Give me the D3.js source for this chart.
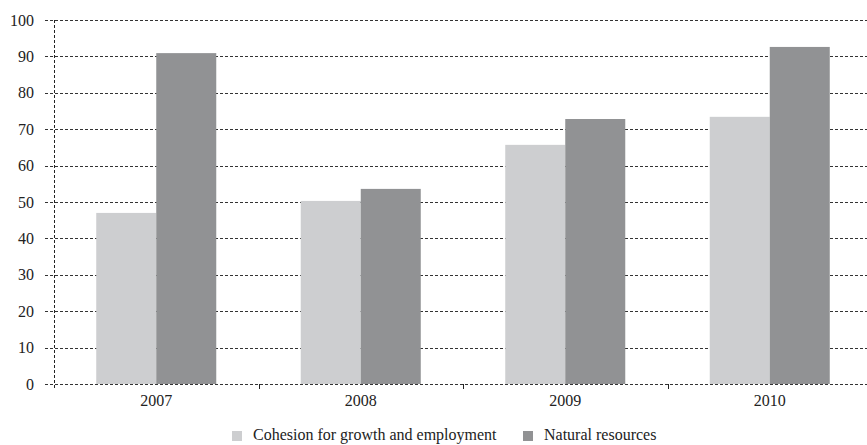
<!DOCTYPE html>
<html><head><meta charset="utf-8">
<script src="https://cdn.jsdelivr.net/npm/d3@7"></script>
<style>body{margin:0;background:#fff}</style>
</head><body><svg id="c" width="867" height="445" style="font-family:'Liberation Serif',serif"></svg>
<script>
const years = ["2007","2008","2009","2010"];
const seriesNames = ["Cohesion for growth and employment","Natural resources"];
const cohesion = [47.0, 50.3, 65.7, 73.4];
const natural = [90.9, 53.6, 72.8, 92.6];
const yTicks = [0,10,20,30,40,50,60,70,80,90,100];
const colors = ["#cdced0","#919294"];
const FONT = "'Liberation Serif', 'Times New Roman', serif";

const svg = d3.select("#c");
const m = {l:54, r:-5, t:20, b:61};
const W = 867, H = 445;
const x = d3.scaleBand().domain(years).range([m.l, W - m.r]).paddingInner(0).paddingOuter(0);
const xs = d3.scaleBand().domain([0,1]).range([0, x.bandwidth()]).paddingInner(0).paddingOuter(0.704);
const y = d3.scaleLinear().domain([0,100]).range([H - m.b, m.t]);

// gridlines
svg.append("g").selectAll("line").data(yTicks).join("line")
  .attr("x1", m.l-9).attr("x2", W).attr("y1", d=>Math.round(y(d))+0.5).attr("y2", d=>Math.round(y(d))+0.5)
  .attr("stroke","#333").attr("stroke-width",1).attr("stroke-dasharray","3,2");

// bars
const g = svg.append("g");
years.forEach((yr,i)=>{
  [cohesion[i], natural[i]].forEach((v,j)=>{
    g.append("rect").attr("x", x(yr)+xs(j)).attr("width", xs.bandwidth())
      .attr("y", y(v)).attr("height", y(0)-y(v)).attr("fill", colors[j]);
  });
});

// y axis
svg.append("line").attr("x1", m.l+0.5).attr("x2", m.l+0.5).attr("y1", y(100)).attr("y2", y(0)+4)
  .attr("stroke","#222").attr("stroke-dasharray","3,2");
const ya = svg.append("g").attr("transform",`translate(${m.l-9},0)`)
  .call(d3.axisLeft(y).tickValues(yTicks).tickSize(0).tickPadding(11));
ya.attr("font-family", FONT);
ya.select(".domain").remove();
ya.selectAll("text").style("font-size","16px").style("font-family",FONT).attr("fill","#222");

// x axis
const xa = svg.append("g").attr("transform",`translate(0,${Math.round(y(0))+0.5})`)
  .call(d3.axisBottom(x).tickSize(0).tickPadding(10));
xa.attr("font-family", FONT);
xa.select(".domain").remove();
xa.selectAll("text").style("font-size","16px").style("font-family",FONT).attr("fill","#222");
svg.append("g").selectAll("line").data(years.slice(1)).join("line")
  .attr("x1", d=>Math.round(x(d))+0.5).attr("x2", d=>Math.round(x(d))+0.5)
  .attr("y1", Math.round(y(0))).attr("y2", Math.round(y(0))+5).attr("stroke","#222");

// legend
const leg = svg.append("g").attr("transform","translate(0,440)");
const legX = [232, 523];
seriesNames.forEach((n,i)=>{
  leg.append("rect").attr("x",legX[i]).attr("y",-9).attr("width",10).attr("height",10).attr("fill",colors[i]);
  leg.append("text").attr("x",legX[i]+21).attr("y",0).text(n)
    .style("font-size","16px").style("font-family",FONT).attr("fill","#222");
});
</script></body></html>
